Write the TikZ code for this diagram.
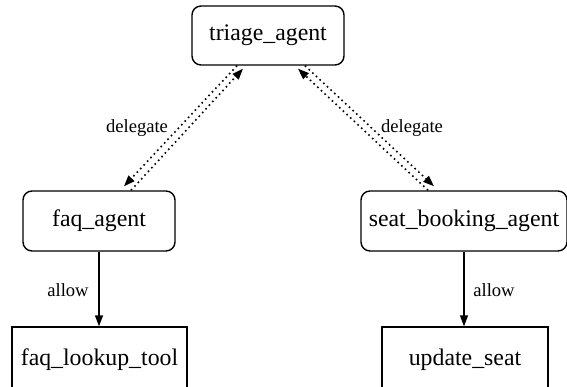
\documentclass[tikz,border=0pt]{standalone}
\usepackage{fontspec}
\setmainfont{Liberation Serif}
\usetikzlibrary{arrows.meta}
\begin{document}
\begin{tikzpicture}[x=1pt,y=-1pt,
  agentbox/.style={draw, line width=1.4pt, rounded corners=9pt, inner sep=0pt,
    font=\fontsize{23.8}{28}\selectfont},
  toolbox/.style={draw, line width=1.4pt, inner sep=0pt,
    font=\fontsize{23.8}{28}\selectfont},
  allowedge/.style={line width=1.4pt, -{Triangle[length=11pt,width=8pt]}},
  deledge/.style={line width=1.6pt, dash pattern=on 1.6pt off 3.4pt,
    -{Triangle[length=11pt,width=8pt]}},
  elabel/.style={font=\fontsize{18.6}{22}\selectfont, inner sep=0pt}]
\useasboundingbox (0,0) rectangle (567,387);
\clip (0,0) rectangle (567,387);
\node[agentbox, minimum width=152pt, minimum height=59pt] (tri) at (268,35.5) {triage\_agent};
\node[agentbox, minimum width=152pt, minimum height=60pt] (faq) at (99,221) {faq\_agent};
\node[agentbox, minimum width=206pt, minimum height=60pt] (seat) at (464,221) {seat\_booking\_agent};
\node[toolbox, minimum width=175pt, minimum height=66pt, text depth=6pt] (look) at (99.5,360) {faq\_lookup\_tool};
\node[toolbox, minimum width=166pt, minimum height=66pt, text depth=6pt] (upd) at (465,360) {update\_seat};
% delegate edges
\draw[deledge] ([xshift=-31pt]tri.south) -- ([xshift=25pt,yshift=4pt]faq.north);
\draw[deledge] ([xshift=32pt]faq.north) -- ([xshift=-25pt,yshift=-3pt]tri.south);
\draw[deledge] ([xshift=37pt]tri.south) -- ([xshift=-30pt,yshift=4pt]seat.north);
\draw[deledge] ([xshift=-36pt]seat.north) -- ([xshift=30pt,yshift=-3pt]tri.south);
\node[elabel] (dl1) at (137,128) {delegate};
\node[elabel] (dl2) at (412,128) {delegate};
% allow edges
\draw[allowedge] (faq.south) -- (faq.south |- look.north);
\draw[allowedge] (seat.south) -- (seat.south |- upd.north);
\node[elabel] (al1) at (68,290) {allow};
\node[elabel] (al2) at (494,290) {allow};
\end{tikzpicture}
\end{document}
